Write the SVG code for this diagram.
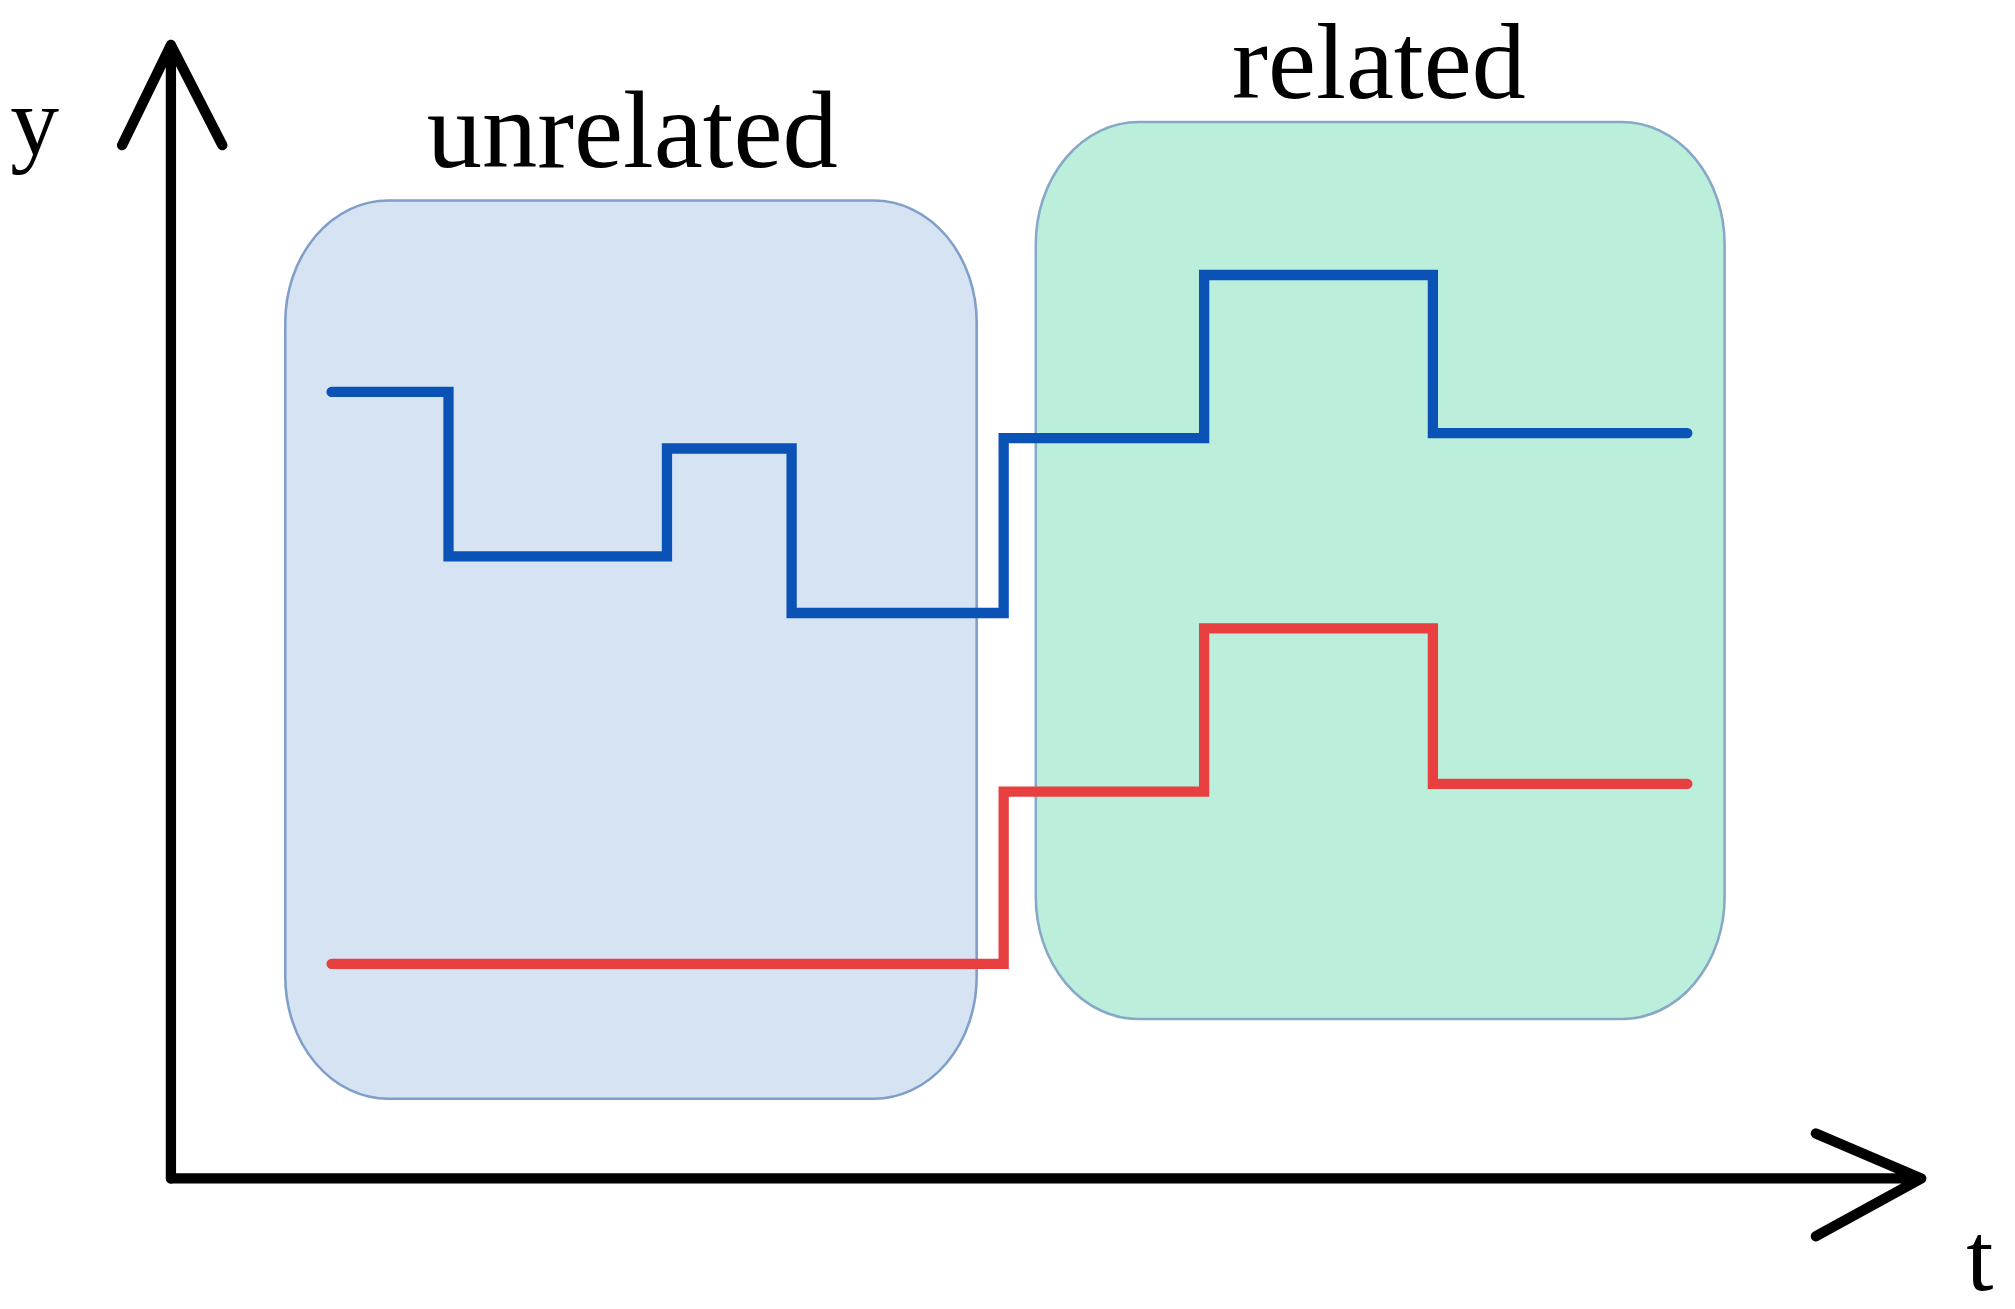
<svg xmlns="http://www.w3.org/2000/svg" width="2015" height="1309" viewBox="0 0 2015 1309">
<style>
.ax{fill:none;stroke:#000;stroke-width:8;stroke-linecap:round;stroke-linejoin:round}
.lbl{font-family:"Liberation Serif","Times New Roman",serif;fill:#000}
.sig{fill:none;stroke-width:8;stroke-linejoin:miter;stroke-linecap:round}
</style>
<rect width="2015" height="1309" fill="#fff"/>
<g transform="scale(1.2851)">
<g id="unrelated-box"><rect x="222" y="156" width="538" height="699" rx="80" ry="95" fill="#d6e3f3" stroke="#7f9fca" stroke-width="2"/></g>
<g id="related-box"><rect x="806" y="95" width="536" height="698" rx="80" ry="95" fill="#bbeedb" stroke="#88a8c8" stroke-width="2"/></g>
<g id="connectors">
<path class="sig" stroke="#0a52b5" d="M258,305H349V433H519V349H616V477H781V341H937V214H1115V337H1313"/>
<path class="sig" stroke="#e84040" d="M258,750H781V616H937V489H1115V610H1313"/>
<path class="ax" d="M133,917V35M95,113L133,35L173,113"/>
<path class="ax" d="M133,917H1495M1413,882L1495,917L1413,962"/>
</g>
<g id="labels">
<text class="lbl" x="8" y="120" font-size="76">y</text>
<text class="lbl" x="492" y="130" font-size="86" text-anchor="middle">unrelated</text>
<text class="lbl" x="1073" y="76" font-size="84" text-anchor="middle">related</text>
<text class="lbl" x="1530" y="1004" font-size="76">t</text>
</g>
</g>
</svg>
